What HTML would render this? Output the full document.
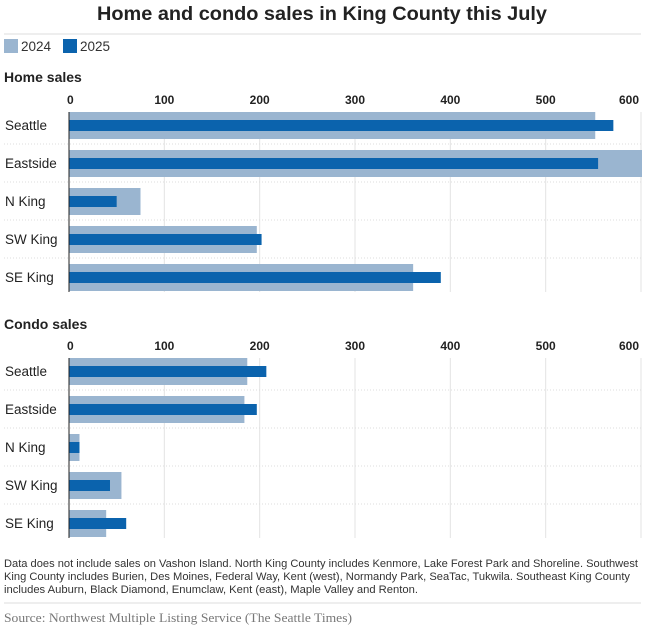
<!DOCTYPE html>
<html><head><meta charset="utf-8"><style>
body{margin:0;background:#fff;width:652px;height:631px;overflow:hidden;font-family:"Liberation Sans",sans-serif;}
svg{display:block}
</style></head><body>
<svg width="652" height="631">
<text x="322" y="20" text-anchor="middle" font-size="19" font-weight="bold" fill="#222" textLength="450" lengthAdjust="spacingAndGlyphs">Home and condo sales in King County this July</text>
<line x1="4" y1="34" x2="641" y2="34" stroke="#ddd"/>
<g>
<rect x="4" y="39" width="14" height="14" fill="#9ab5d0"/>
<text x="21" y="51" font-size="13.5" fill="#333">2024</text>
<rect x="63" y="39" width="14" height="14" fill="#0b63ad"/>
<text x="80" y="51" font-size="13.5" fill="#333">2025</text>
</g>
<g id="home"></g>
<g id="condo"></g>
<g font-size="10.8" fill="#333">
<text x="4" y="567" textLength="634" lengthAdjust="spacingAndGlyphs">Data does not include sales on Vashon Island. North King County includes Kenmore, Lake Forest Park and Shoreline. Southwest</text>
<text x="4" y="580" textLength="626" lengthAdjust="spacingAndGlyphs">King County includes Burien, Des Moines, Federal Way, Kent (west), Normandy Park, SeaTac, Tukwila. Southeast King County</text>
<text x="4" y="593" textLength="414" lengthAdjust="spacingAndGlyphs">includes Auburn, Black Diamond, Enumclaw, Kent (east), Maple Valley and Renton.</text>
</g>
<line x1="4" y1="603" x2="641" y2="603" stroke="#ddd"/>
<text x="4" y="622" font-size="13" fill="#777" font-family="Liberation Serif, serif" textLength="348" lengthAdjust="spacingAndGlyphs">Source: Northwest Multiple Listing Service (The Seattle Times)</text>
</svg>
<script>
const categories=["Seattle","Eastside","N King","SW King","SE King"];
const ticks=[0,100,200,300,400,500,600];
const home2024=[552,620,75,197,361];
const home2025=[571,555,50,202,390];
const condo2024=[187,184,11,55,39];
const condo2025=[207,197,11,43,60];
const NS="http://www.w3.org/2000/svg";
const X0=69,X1=641,XMAX=600;
function xs(v){return X0+(v/XMAX)*(X1-X0);}
function mk(p,tag,a){const e=document.createElementNS(NS,tag);for(const k in a)e.setAttribute(k,a[k]);p.appendChild(e);return e;}
function panel(gid,title,titleY,tickY,top,a,b,key){
 const g=document.getElementById(gid);
 const t=mk(g,"text",{x:4,y:titleY,"font-size":14,"font-weight":"bold",fill:"#222"});t.textContent=title;
 
 
 const pitch=38,bottom=top+pitch*categories.length-10;
 ticks.forEach(v=>{
  const x=xs(v);
  const tl=mk(g,"text",{x:v===600?x-2:x,y:tickY,"font-size":12,"font-weight":"bold","text-anchor":v===600?"end":(v===0?"start":"middle"),fill:"#222"});
  if(v===0)tl.setAttribute("x",x-2);
  tl.textContent=v;
  
  
  if(v>0){const gl=mk(g,"line",{x1:x,y1:top,x2:x,y2:bottom,stroke:"#e3e3e3"});
  
  }
 });
 categories.forEach((c,i)=>{
  const y=top+i*pitch;
  if(i>0){const sp=mk(g,"line",{x1:4,y1:y-6,x2:641,y2:y-6,stroke:"#ddd","stroke-dasharray":"1,2"});
  
  }
  const lb=mk(g,"text",{x:5,y:y+18,"font-size":13.5,fill:"#222"});lb.textContent=c;
  
  
  const r1=mk(g,"rect",{x:X0,y:y,width:Math.min(xs(a[i]),642)-X0,height:27,fill:"#9ab5d0"});
  
  
  const r2=mk(g,"rect",{x:X0,y:y+8,width:Math.min(xs(b[i]),642)-X0,height:11,fill:"#0b63ad"});
  
  
 });
 const ax=mk(g,"line",{x1:X0,y1:top,x2:X0,y2:bottom,stroke:"#222"});
 
 
}
panel("home","Home sales",82,104,112,home2024,home2025,"home");
panel("condo","Condo sales",329,350,358,condo2024,condo2025,"condo");
</script>
</body></html>
